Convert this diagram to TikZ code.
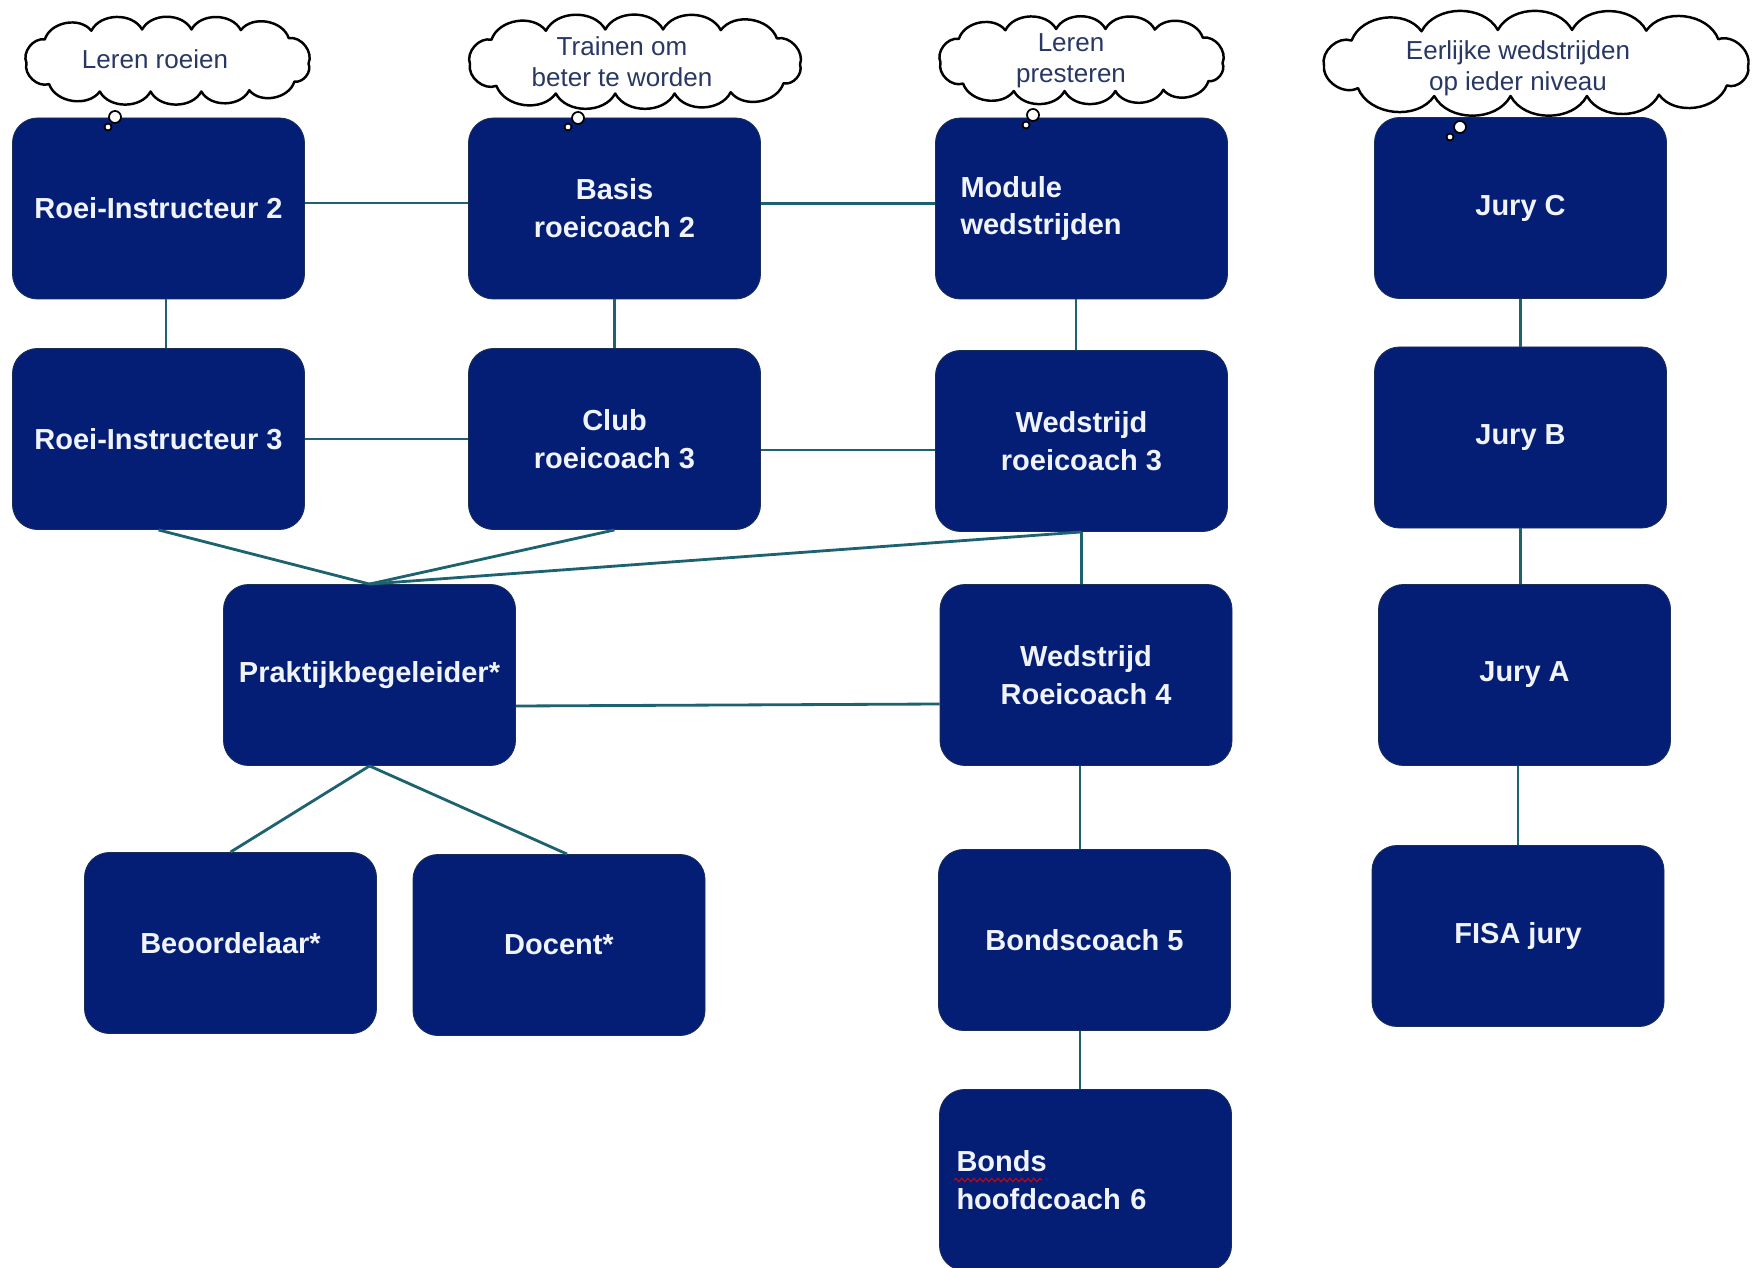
\documentclass[tikz,border=0pt]{standalone}
\usepackage{fontspec}
\setmainfont{Liberation Sans}
\usetikzlibrary{calc,decorations.pathmorphing}
\definecolor{navybox}{RGB}{4,30,118}
\definecolor{navyedge}{RGB}{25,45,85}
\definecolor{linkteal}{RGB}{28,98,112}
\definecolor{cloudtxt}{RGB}{40,55,100}
\definecolor{boxtxt}{RGB}{240,243,250}
\newcommand\mycloud[4]{% cx cy halfwidth halfheight
  \draw[cloudline] ($(#1,#2)+(1.0*#3,0.1*#4)$)
    \foreach \a/\b in {0.86/-0.72, 0.52/-0.98, 0.17/-1, -0.18/-1, -0.54/-0.96, -0.87/-0.68,
                       -1/0.08, -0.84/0.76, -0.48/1, -0.12/1, 0.24/1, 0.58/0.96, 0.9/0.68, 1.0/0.1}
      { to[bend right=62] ($(#1,#2)+(\a*#3,\b*#4)$) } -- cycle;}
\begin{document}
\begin{tikzpicture}[x=0.2mm,y=-0.2mm,
  box/.style={draw=navyedge, line width=0.5pt, fill=navybox, rounded corners=5mm,
    minimum width=58.4mm, minimum height=36.2mm, text=boxtxt,
    font=\fontsize{16.5}{21.6}\selectfont\bfseries, align=center, inner sep=2mm},
  leftbox/.style={box, align=left, text width=#1},
  conn/.style={draw=linkteal, line width=1.6pt},
  cloudline/.style={draw=black, line width=1.4pt, fill=white, line join=round},
  ctext/.style={text=cloudtxt, font=\fontsize{14.8}{17.6}\selectfont, align=center, inner sep=0pt},
  bubble/.style={circle, draw=black, line width=1pt, fill=white, inner sep=0pt},
  spell/.style={draw=red!85!black, line width=0.6pt, decorate,
    decoration={snake, amplitude=0.35mm, segment length=1.2mm}}
]
\useasboundingbox (0,0) rectangle (1755,1268);
\fill[white] (0,0) rectangle (1755,1268);

% boxes
\node[box] (ri2) at (158.5,208.5) {Roei-Instructeur 2};
\node[box] (ri3) at (158.5,439) {Roei-Instructeur 3};
\node[box] (basis) at (614.5,208.5) {Basis\\roeicoach 2};
\node[box] (club) at (614.5,439) {Club\\roeicoach 3};
\node[leftbox=48.4mm, inner xsep=5mm] (module) at (1081.5,208.5) {Module\\wedstrijden};
\node[box] (w3) at (1081.5,441) {Wedstrijd\\roeicoach 3};
\node[box] (prak) at (369.5,675) {Praktijkbegeleider*};
\node[box] (w4) at (1086,675) {Wedstrijd\\Roeicoach 4};
\node[box] (beo) at (230.5,943) {Beoordelaar*};
\node[box] (doc) at (559,945) {Docent*};
\node[box] (b5) at (1084.5,940) {Bondscoach 5};
\node[leftbox=51.6mm, inner xsep=3.4mm] (bh) at (1085.5,1180) {Bonds\\hoofdcoach 6};
\node[box] (jc) at (1520.5,208) {Jury C};
\node[box] (jb) at (1520.5,437.5) {Jury B};
\node[box] (ja) at (1524.5,675) {Jury A};
\node[box] (fisa) at (1518,936) {FISA jury};

% spell-check underline under "Bonds"
\draw[spell] (954,1180) -- (1042,1180);

% connectors
\draw[conn] ([yshift=1.1mm]ri2.east) -- ([yshift=1.1mm]basis.west);
\draw[conn] ([yshift=1mm]basis.east) -- ([yshift=1mm]module.west);
\draw[conn] ([xshift=1.5mm]ri2.south) -- ([xshift=1.5mm]ri3.north);
\draw[conn] (basis.south) -- (club.north);
\draw[conn] ([xshift=-1.1mm]module.south) -- ([xshift=-1.1mm]w3.north);
\draw[conn] (ri3.east) -- (club.west);
\draw[conn] ([yshift=-2.2mm]club.east) -- ([yshift=-2.2mm]club.east -| w3.west);
\draw[conn] (ri3.south) -- (prak.north);
\draw[conn] (club.south) -- (prak.north);
\draw[conn] (w3.south) -- (prak.north);
\draw[conn] (w3.south) -- (w3.south |- w4.north);
\draw[conn] ([yshift=-6.2mm]prak.east) -- ([yshift=-5.8mm]w4.west);
\draw[conn] (prak.south) -- (beo.north);
\draw[conn] (prak.south) -- ([xshift=1.6mm]doc.north);
\draw[conn] ([xshift=-0.9mm]b5.north) -- ([xshift=-0.9mm]b5.north |- w4.south);
\draw[conn] ([xshift=-0.9mm]b5.south) -- ([xshift=-0.9mm]b5.south |- bh.north);
\draw[conn] (jc.south) -- (jc.south |- jb.north);
\draw[conn] (jb.south) -- (jb.south |- ja.north);
\draw[conn] (fisa.north) -- (fisa.north |- ja.south);

% clouds
\mycloud{167.5}{60.5}{141}{31}
\node[ctext] (cl1t) at (155,59) {Leren roeien};
\mycloud{635}{61.5}{165}{32}
\node[ctext] (cl2t) at (622,62) {Trainen om\\beter te worden};
\mycloud{1081.5}{60}{141}{31}
\node[ctext] (cl3t) at (1071,60.5) {Leren\\presteren};
\mycloud{1536}{63}{212}{33}
\node[ctext] (cl4t) at (1518,68.5) {Eerlijke wedstrijden\\op ieder niveau};

% thought bubbles
\node[bubble, minimum size=2.4mm] (b1a) at (115,117) {};
\node[bubble, minimum size=1.4mm] (b1b) at (108,127) {};
\node[bubble, minimum size=2.4mm] (b2a) at (578,118) {};
\node[bubble, minimum size=1.4mm] (b2b) at (568,127) {};
\node[bubble, minimum size=2.4mm] (b3a) at (1033,115) {};
\node[bubble, minimum size=1.4mm] (b3b) at (1026,125) {};
\node[bubble, minimum size=2.4mm] (b4a) at (1460,127) {};
\node[bubble, minimum size=1.4mm] (b4b) at (1450,137) {};
\end{tikzpicture}
\end{document}
